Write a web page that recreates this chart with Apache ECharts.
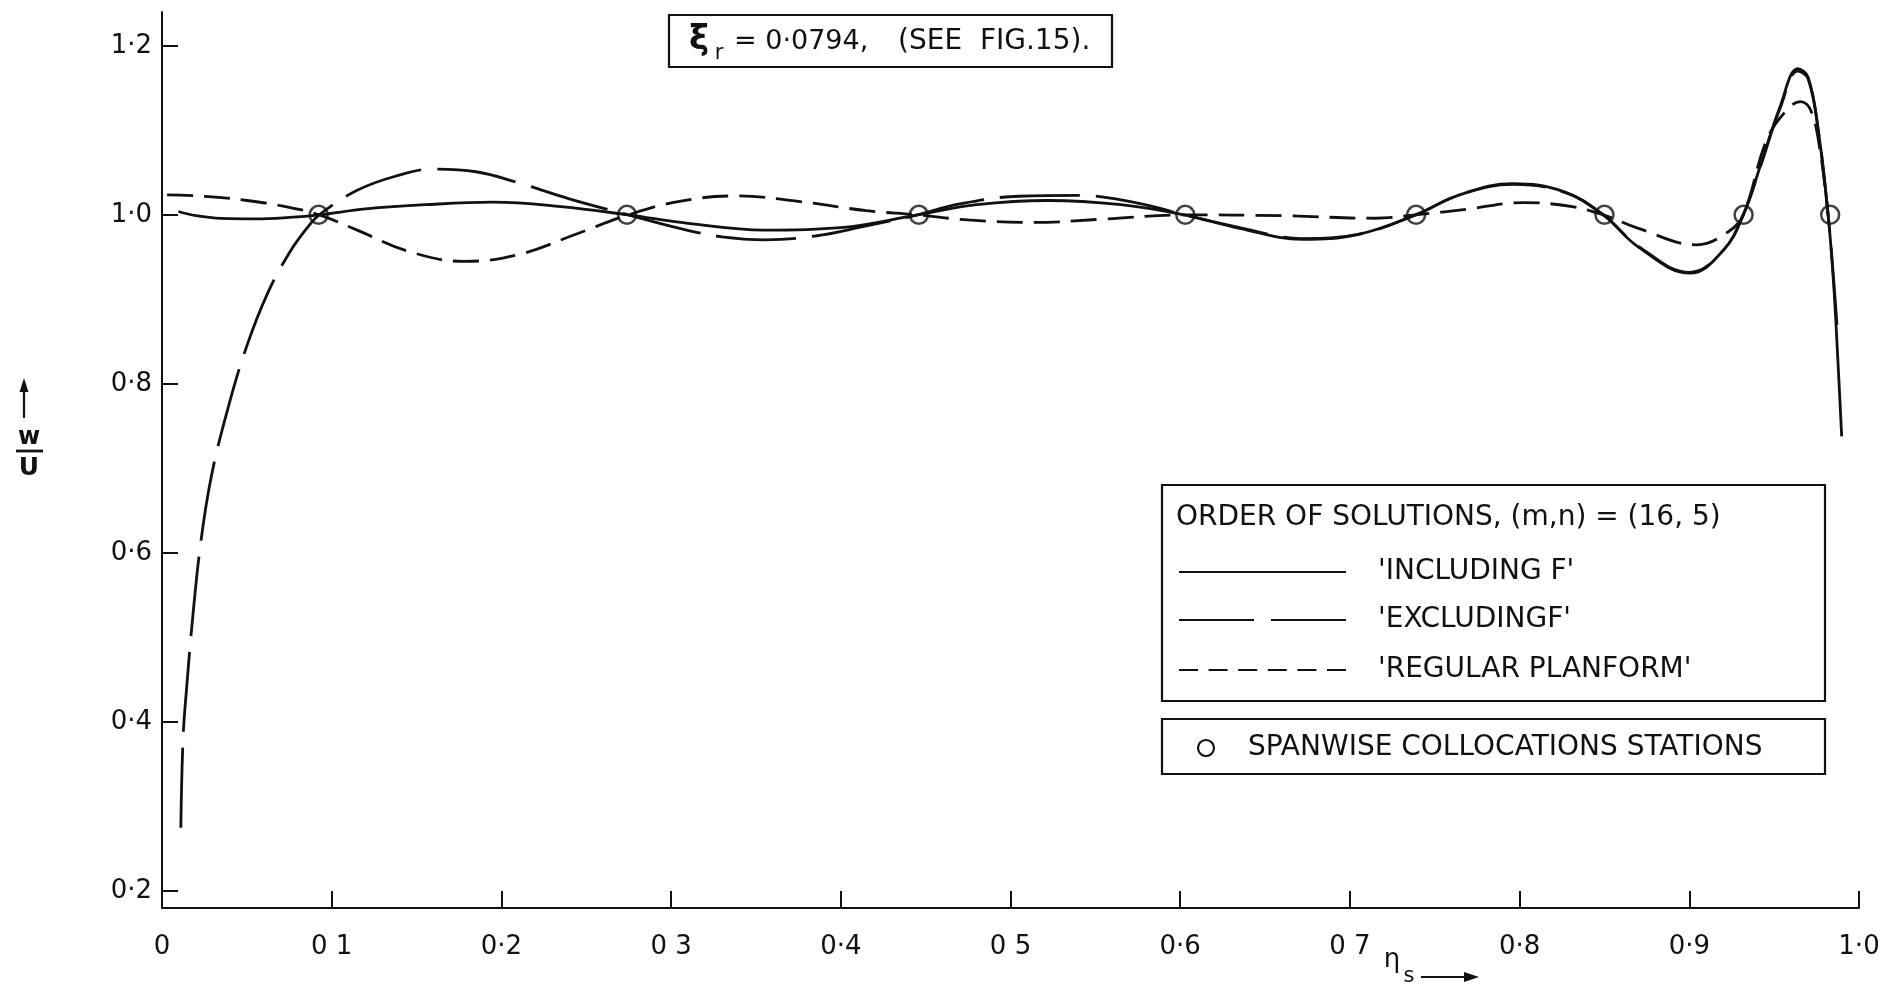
<!DOCTYPE html>
<html>
<head>
<meta charset="utf-8">
<script src="https://cdn.jsdelivr.net/npm/echarts@6/dist/echarts.min.js"></script>
<style>
html,body{margin:0;padding:0;background:#fff;}
#c{width:1883px;height:988px;}
</style>
</head>
<body>
<div id="c"></div>
<script>
// ---- tick labels ----
const xTickValues = [0, 0.1, 0.2, 0.3, 0.4, 0.5, 0.6, 0.7, 0.8, 0.9, 1.0];
const xTickLabels = ['0', '0 1', '0·2', '0 3', '0·4', '0 5', '0·6', '0 7', '0·8', '0·9', '1·0'];
const yTickValues = [0.2, 0.4, 0.6, 0.8, 1.0, 1.2];
const yTickLabels = ['0·2', '0·4', '0·6', '0·8', '1·0', '1·2'];

// ---- 'INCLUDING F' (solid) ----
const inclX = [0.0097, 0.020, 0.035, 0.055, 0.075, 0.0927, 0.120, 0.155, 0.195, 0.235, 0.2748,
  0.310, 0.355, 0.400, 0.4452, 0.480, 0.522, 0.565, 0.6022,
  0.635, 0.672, 0.705, 0.7387, 0.765, 0.796, 0.826, 0.8493,
  0.870, 0.9004, 0.9200, 0.9318, 0.9417, 0.9535, 0.9640, 0.9700, 0.9760, 0.9818, 0.9850, 0.9875, 0.9898];
const inclY = [1.004, 0.999, 0.9958, 0.9953, 0.997, 1.000, 1.007, 1.012, 1.015, 1.0098, 1.000,
  0.990, 0.982, 0.985, 1.000, 1.012, 1.017, 1.012, 1.000,
  0.984, 0.971, 0.977, 1.000, 1.024, 1.037, 1.0275, 1.000,
  0.962, 0.931, 0.958, 1.000, 1.057, 1.128, 1.173, 1.163, 1.100, 1.000, 0.920, 0.830, 0.738];

// ---- 'EXCLUDING F' (long dash) ----
const exclX = [0.0111, 0.0124, 0.0145, 0.0182, 0.0230, 0.0290, 0.0387, 0.050, 0.0624, 0.075, 0.0853, 0.0927,
  0.115, 0.138, 0.160, 0.185, 0.210, 0.240, 0.2748,
  0.305, 0.330, 0.355, 0.385, 0.415, 0.4452, 0.470, 0.505, 0.540, 0.575, 0.6022,
  0.635, 0.672, 0.705, 0.7387, 0.765, 0.796, 0.826, 0.8493,
  0.870, 0.9004, 0.9200, 0.9318, 0.9417, 0.9535, 0.9640, 0.9700, 0.9760, 0.9818, 0.9850, 0.9870];
const exclY = [0.275, 0.380, 0.440, 0.526, 0.615, 0.690, 0.770, 0.845, 0.908, 0.955, 0.984, 1.000,
  1.029, 1.046, 1.054, 1.051, 1.038, 1.019, 1.000,
  0.984, 0.974, 0.9705, 0.975, 0.987, 1.000, 1.013, 1.022, 1.023, 1.014, 1.000,
  0.985, 0.972, 0.977, 1.000, 1.024, 1.036, 1.027, 1.000,
  0.963, 0.932, 0.958, 1.000, 1.056, 1.126, 1.170, 1.161, 1.100, 1.000, 0.925, 0.870];

// ---- 'REGULAR PLANFORM' (short dash) ----
const regX = [0.003, 0.025, 0.050, 0.075, 0.0927, 0.115, 0.145, 0.178, 0.210, 0.245, 0.2748,
  0.305, 0.338, 0.376, 0.415, 0.4452, 0.475, 0.513, 0.555, 0.6022,
  0.660, 0.715, 0.7387, 0.770, 0.802, 0.830, 0.8493,
  0.870, 0.9044, 0.9230, 0.9318, 0.9456, 0.9574, 0.9655, 0.9715, 0.9770, 0.9818];
const regY = [1.0236, 1.022, 1.017, 1.009, 1.000, 0.982, 0.957, 0.945, 0.953, 0.978, 1.000,
  1.016, 1.0224, 1.0157, 1.005, 1.000, 0.994, 0.991, 0.995, 1.000,
  0.999, 0.996, 1.000, 1.007, 1.0145, 1.010, 1.000,
  0.984, 0.9646, 0.980, 1.000, 1.0886, 1.124, 1.134, 1.124, 1.077, 1.000];

// ---- spanwise collocation stations ----
const stationX = [0.0923, 0.274, 0.446, 0.603, 0.739, 0.850, 0.932, 0.983];
const stationY = [1.0, 1.0, 1.0, 1.0, 1.0, 1.0, 1.0, 1.0];

const FONT = "'DejaVu Sans', sans-serif";
const INK = '#111';

function zip(xs, ys) { return xs.map((x, i) => [x, ys[i]]); }
function lookup(vals, labs, v) {
  for (let i = 0; i < vals.length; i++) if (Math.abs(vals[i] - v) < 1e-6) return labs[i];
  return '';
}

const chart = echarts.init(document.getElementById('c'), null, { renderer: 'canvas' });

function txt(text, x, y, size, align, weight) {
  return {
    type: 'text',
    style: {
      text: text, x: x, y: y, fill: INK,
      font: (weight ? weight + ' ' : '') + size + 'px ' + FONT,
      align: align || 'left', textAlign: align || 'left',
      verticalAlign: 'middle', textVerticalAlign: 'middle'
    }
  };
}
function ln(x1, y1, x2, y2, w, dash) {
  return {
    type: 'line',
    shape: { x1: x1, y1: y1, x2: x2, y2: y2 },
    style: { stroke: INK, lineWidth: w || 2, lineDash: dash || null }
  };
}
function box(x, y, w, h) {
  return { type: 'rect', shape: { x: x, y: y, width: w, height: h }, style: { fill: 'none', stroke: INK, lineWidth: 2.2 } };
}

const graphics = [
  // y-axis name: arrow and w/U
  ln(24, 418, 24, 388, 2.2),
  { type: 'polygon', shape: { points: [[24, 378], [19.5, 392], [28.5, 392]] }, style: { fill: INK } },
  txt('w', 29, 438, 24, 'center', 'bold'),
  ln(16, 451, 43, 451, 2.8),
  txt('U', 29, 468, 25, 'center', 'bold'),

  // x-axis name: eta_s with arrow
  txt('η', 1392, 960, 26, 'center'),
  txt('s', 1409, 977, 21, 'center'),
  ln(1421, 977, 1466, 977, 2.2),
  { type: 'polygon', shape: { points: [[1479, 977], [1464, 972], [1464, 982]] }, style: { fill: INK } },

  // title box
  box(669, 15, 443, 52),
  txt('ξ', 699, 40, 34, 'center', 'bold'),
  txt('r', 719, 54, 21, 'center'),
  txt('= 0·0794,', 734, 42, 27, 'left'),
  txt('(SEE  FIG.15).', 898, 42, 28, 'left'),

  // legend box
  box(1162, 485, 663, 216),
  txt('ORDER OF SOLUTIONS, (m,n) = (16, 5)', 1176, 518, 28, 'left'),
  ln(1179, 572, 1346, 572, 2.2),
  txt("'INCLUDING F'", 1378, 572, 28, 'left'),
  ln(1179, 620, 1346, 620, 2.2, [75, 17]),
  txt("'EXCLUDINGF'", 1378, 620, 28, 'left'),
  ln(1179, 670, 1346, 670, 2.2, [19, 10.6]),
  txt("'REGULAR PLANFORM'", 1378, 670, 28, 'left'),

  // stations box
  box(1162, 719, 663, 55),
  { type: 'circle', shape: { cx: 1206, cy: 748, r: 8 }, style: { fill: 'none', stroke: INK, lineWidth: 2.2 } },
  txt('SPANWISE COLLOCATIONS STATIONS', 1248, 748, 28, 'left')
];

const option = {
  animation: false,
  backgroundColor: '#fff',
  grid: { left: 162, right: 24, top: 12, bottom: 80, containLabel: false },
  xAxis: {
    type: 'value', min: 0, max: 1, interval: 0.1,
    axisLine: { show: true, onZero: false, lineStyle: { color: INK, width: 2 } },
    axisTick: { show: true, inside: true, length: 17, lineStyle: { color: INK, width: 2 } },
    axisLabel: {
      margin: 26, color: INK, fontSize: 26, fontFamily: FONT,
      formatter: v => lookup(xTickValues, xTickLabels, v)
    },
    splitLine: { show: false }
  },
  yAxis: {
    type: 'value', min: 0.18, max: 1.24,
    axisLine: { show: true, onZero: false, lineStyle: { color: INK, width: 2 } },
    axisTick: { show: true, inside: true, length: 16, customValues: yTickValues, lineStyle: { color: INK, width: 2 } },
    axisLabel: {
      margin: 10, color: INK, fontSize: 26, fontFamily: FONT, customValues: yTickValues,
      formatter: v => lookup(yTickValues, yTickLabels, v)
    },
    splitLine: { show: false }
  },
  series: [
    {
      name: 'INCLUDING F', type: 'line', data: zip(inclX, inclY),
      smooth: 0.4, showSymbol: false, clip: false,
      lineStyle: { color: INK, width: 2.8, type: 'solid' }
    },
    {
      name: 'EXCLUDING F', type: 'line', data: zip(exclX, exclY),
      smooth: 0.4, showSymbol: false, clip: false,
      lineStyle: { color: INK, width: 2.8, type: [80, 16] }
    },
    {
      name: 'REGULAR PLANFORM', type: 'line', data: zip(regX, regY),
      smooth: 0.4, showSymbol: false, clip: false,
      lineStyle: { color: INK, width: 2.8, type: [26, 11] }
    },
    {
      name: 'SPANWISE COLLOCATIONS STATIONS', type: 'scatter', data: zip(stationX, stationY),
      symbol: 'circle', symbolSize: 18, z: 5,
      itemStyle: { color: 'rgba(0,0,0,0)', borderColor: INK, borderWidth: 2.5 }
    }
  ],
  graphic: graphics
};
chart.setOption(option);
</script>
</body>
</html>
